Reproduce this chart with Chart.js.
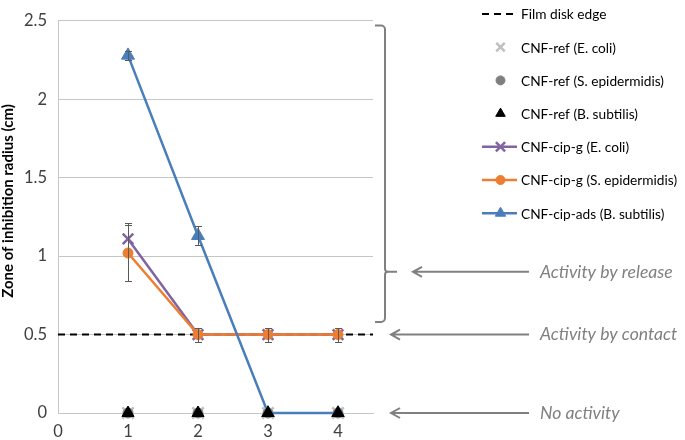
<!DOCTYPE html>
<html>
<head>
<meta charset="utf-8">
<script src="https://cdn.jsdelivr.net/npm/chart.js@4.4.1/dist/chart.umd.min.js"></script>
<style>
html,body{margin:0;padding:0;background:#fff;}
#wrap{width:685px;height:440px;position:relative;}
</style>
</head>
<body>
<div id="wrap"><canvas id="c" width="685" height="440"></canvas></div>
<script>
// ---- data ----
const xValues = [1, 2, 3, 4];
const xTickValues = [0, 1, 2, 3, 4];
const yTickValues = [0, 0.5, 1, 1.5, 2, 2.5];
const filmEdgeX = [0, 4.5];
const filmEdgeY = [0.5, 0.5];
const refEcoli = [0, 0, 0, 0];
const refSepi = [0, 0, 0, 0];
const refBsub = [0, 0, 0, 0];
const cipEcoli = [1.11, 0.5, 0.5, 0.5];
const cipEcoliErr = [0.10, 0.045, 0.045, 0.045];
const cipSepi = [1.02, 0.5, 0.5, 0.5];
const cipSepiErr = [0.18, 0.045, 0.045, 0.045];
const adsBsub = [2.28, 1.13, 0, 0];
const adsBsubErr = [0.03, 0.06, 0, 0];
const seriesLabels = ['Film disk edge', 'CNF-ref (E. coli)', 'CNF-ref (S. epidermidis)', 'CNF-ref (B. subtilis)',
  'CNF-cip-g (E. coli)', 'CNF-cip-g (S. epidermidis)', 'CNF-cip-ads (B. subtilis)'];
const yTitle = 'Zone of inhibition radius (cm)';
const noteLabels = ['Activity by release', 'Activity by contact', 'No activity'];
const noteValues = [0.9, 0.5, 0];

const FAMILY = 'Lato, "Open Sans", sans-serif';
const mctx = document.createElement('canvas').getContext('2d');
function fit(text, prefix, target) {
  mctx.font = prefix + ' 100px ' + FAMILY;
  return Math.round(100 * target / mctx.measureText(text).width * 10) / 10;
}
const legendSize = fit('CNF-cip-ads (B. subtilis)', 'normal', 143);
const noteSize = fit('Activity by contact', 'italic', 137);
const tickSize = fit('2.5', 'normal', 23);
const titleSize = fit(yTitle, 'bold', 193);

const pts = (xs, ys) => xs.map((x, i) => ({x: x, y: ys[i]}));

const datasets = [
  {label: seriesLabels[0], data: pts(filmEdgeX, filmEdgeY), showLine: true, borderColor: '#000', borderWidth: 2,
   borderDash: [7, 5], pointRadius: 0, order: 10, legendLine: true, legendMarker: false},
  {label: seriesLabels[1], data: pts(xValues, refEcoli), showLine: false, pointStyle: 'crossRot', pointRadius: 8,
   borderColor: '#BFBFBF', backgroundColor: '#BFBFBF', pointBorderWidth: 2.5, order: 3, legendLine: false, legendMarker: true, legendR: 6},
  {label: seriesLabels[2], data: pts(xValues, refSepi), showLine: false, pointStyle: 'circle', pointRadius: 5,
   borderColor: '#7F7F7F', backgroundColor: '#7F7F7F', pointBorderWidth: 1, order: 2, legendLine: false, legendMarker: true, legendR: 4.5},
  {label: seriesLabels[3], data: pts(xValues, refBsub), showLine: false, pointStyle: 'triangle', pointRadius: 7,
   borderColor: '#000', backgroundColor: '#000', pointBorderWidth: 1, order: 1, legendLine: false, legendMarker: true, legendR: 5.5},
  {label: seriesLabels[4], data: pts(xValues, cipEcoli), showLine: true, pointStyle: 'crossRot', pointRadius: 7.5,
   borderColor: '#8064A2', backgroundColor: '#8064A2', borderWidth: 2.5, pointBorderWidth: 2.5, order: 9,
   errors: cipEcoliErr, legendLine: true, legendMarker: true, legendR: 6.5},
  {label: seriesLabels[5], data: pts(xValues, cipSepi), showLine: true, pointStyle: 'circle', pointRadius: 5,
   borderColor: '#ED7D31', backgroundColor: '#ED7D31', borderWidth: 2.5, pointBorderWidth: 1, order: 8,
   errors: cipSepiErr, legendLine: true, legendMarker: true, legendR: 4.5},
  {label: seriesLabels[6], data: pts(xValues, adsBsub), showLine: true, pointStyle: 'triangle', pointRadius: 7.5,
   borderColor: '#4A7EBB', backgroundColor: '#4A7EBB', borderWidth: 2.5, pointBorderWidth: 1, order: 7,
   errors: adsBsubErr, legendLine: true, legendMarker: true, legendR: 6}
];
datasets.forEach(d => { d.clip = false; });

const extras = {
  id: 'extras',
  afterDatasetDraw(chart, args) {
    const ds = chart.data.datasets[args.index];
    if (!ds.errors) return;
    const ctx = chart.ctx, xs = chart.scales.x, ys = chart.scales.y;
    ctx.save();
    ctx.strokeStyle = '#595959';
    ctx.lineWidth = 1;
    ds.data.forEach((p, i) => {
      const e = ds.errors[i];
      if (!e) return;
      const px = Math.round(xs.getPixelForValue(p.x)) + 0.5;
      const y1 = Math.round(ys.getPixelForValue(p.y + e)) + 0.5;
      const y2 = Math.round(ys.getPixelForValue(p.y - e)) + 0.5;
      ctx.beginPath();
      ctx.moveTo(px, y1); ctx.lineTo(px, y2);
      ctx.moveTo(px - 3.5, y1); ctx.lineTo(px + 3.5, y1);
      ctx.moveTo(px - 3.5, y2); ctx.lineTo(px + 3.5, y2);
      ctx.stroke();
    });
    ctx.restore();
  },
  afterDraw(chart) {
    const ctx = chart.ctx, ys = chart.scales.y, area = chart.chartArea;
    ctx.save();
    // y axis title
    ctx.save();
    ctx.translate(8, 201);
    ctx.rotate(-Math.PI / 2);
    ctx.font = 'bold ' + titleSize + 'px ' + FAMILY;
    ctx.fillStyle = '#000';
    ctx.textAlign = 'center';
    ctx.textBaseline = 'middle';
    ctx.fillText(yTitle, 0, 0);
    ctx.restore();
    // legend
    const lx0 = 482, lx1 = 517, ltx = 521;
    ctx.font = legendSize + 'px ' + FAMILY;
    ctx.textBaseline = 'middle';
    ctx.textAlign = 'left';
    chart.data.datasets.forEach((ds, i) => {
      const y = 14 + i * 33.2;
      if (ds.legendLine) {
        ctx.save();
        ctx.strokeStyle = ds.borderColor;
        ctx.lineWidth = ds.borderWidth;
        if (ds.borderDash) ctx.setLineDash(ds.borderDash);
        ctx.beginPath(); ctx.moveTo(lx0, y); ctx.lineTo(lx1, y); ctx.stroke();
        ctx.restore();
      }
      if (ds.legendMarker) {
        ctx.save();
        ctx.strokeStyle = ds.borderColor;
        ctx.fillStyle = ds.backgroundColor;
        ctx.lineWidth = ds.pointBorderWidth;
        Chart.helpers.drawPoint(ctx, {pointStyle: ds.pointStyle, radius: ds.legendR, rotation: 0,
          borderWidth: ds.pointBorderWidth}, (lx0 + lx1) / 2 + 1, y);
        ctx.restore();
      }
      ctx.fillStyle = '#000';
      ctx.fillText(ds.label, ltx, y + 1);
    });
    // brace
    const gray = '#808080';
    ctx.strokeStyle = gray;
    ctx.lineWidth = 2;
    const bx = area.right + 12, bl = area.right + 2;
    const bTop = ys.getPixelForValue(2.47), bBot = ys.getPixelForValue(0.58), bMid = ys.getPixelForValue(noteValues[0]);
    ctx.beginPath();
    ctx.moveTo(bl, bTop);
    ctx.arcTo(bx, bTop, bx, bTop + 10, 4);
    ctx.lineTo(bx, bMid - 4);
    ctx.arcTo(bx, bMid, bx + 6, bMid, 3);
    ctx.lineTo(bx + 12, bMid);
    ctx.moveTo(bx + 3, bMid);
    ctx.arcTo(bx, bMid, bx, bMid + 6, 3);
    ctx.lineTo(bx, bBot - 4);
    ctx.arcTo(bx, bBot, bl, bBot, 4);
    ctx.lineTo(bl, bBot);
    ctx.stroke();
    // arrows + notes
    const arrowStart = [area.right + 40, area.right + 18, area.right + 18];
    ctx.font = 'italic ' + noteSize + 'px ' + FAMILY;
    ctx.fillStyle = gray;
    noteLabels.forEach((t, i) => {
      const y = ys.getPixelForValue(noteValues[i]);
      const xTip = arrowStart[i], xEnd = 529;
      ctx.beginPath();
      ctx.moveTo(xEnd, y); ctx.lineTo(xTip, y);
      ctx.moveTo(xTip + 9, y - 5); ctx.lineTo(xTip, y); ctx.lineTo(xTip + 9, y + 5);
      ctx.stroke();
      ctx.fillText(t, 540, y);
    });
    ctx.restore();
  }
};

new Chart(document.getElementById('c'), {
  type: 'scatter',
  data: {datasets: datasets},
  plugins: [extras],
  options: {
    responsive: false,
    animation: false,
    devicePixelRatio: 1,
    layout: {autoPadding: false, padding: {left: 0, right: 312, top: 5, bottom: 0}},
    plugins: {legend: {display: false}, tooltip: {enabled: false}},
    elements: {line: {tension: 0}},
    scales: {
      x: {
        type: 'linear', min: 0, max: 4.5,
        afterBuildTicks: s => { s.ticks = xTickValues.map(v => ({value: v})); },
        afterFit: s => { s.height = 27; },
        grid: {display: false, drawTicks: false},
        border: {display: true, color: '#c6c6c6'},
        ticks: {padding: 9, color: '#404040', font: {family: FAMILY, size: tickSize}, callback: v => String(v)}
      },
      y: {
        type: 'linear', min: 0, max: 2.5,
        afterBuildTicks: s => { s.ticks = yTickValues.map(v => ({value: v})); },
        afterFit: s => { s.width = 58; },
        grid: {display: true, drawTicks: false, color: '#c6c6c6', lineWidth: 1},
        border: {display: true, color: '#c6c6c6'},
        ticks: {padding: 11, color: '#404040', font: {family: FAMILY, size: tickSize}, callback: v => String(v)},
        title: {display: false, text: yTitle}
      }
    }
  }
});
</script>
</body>
</html>
